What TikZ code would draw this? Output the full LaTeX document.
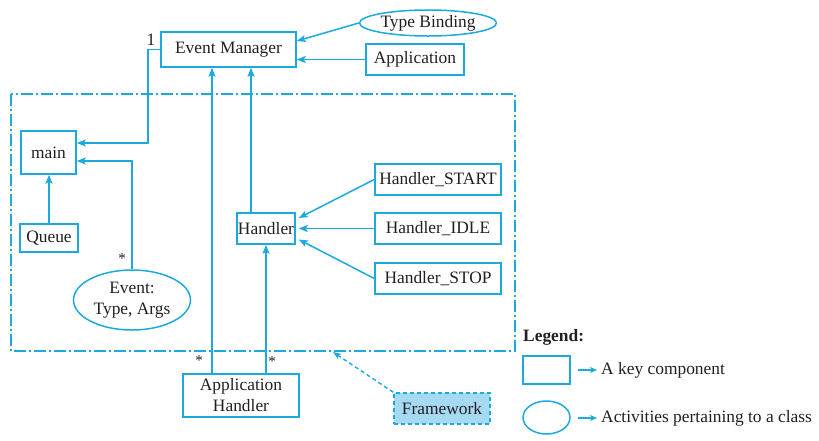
\documentclass[tikz,border=0pt]{standalone}
\usepackage{fontspec}
\setmainfont{Liberation Serif}
\usetikzlibrary{shapes.geometric,arrows.meta,calc}
\definecolor{cy}{RGB}{28,170,222}
\definecolor{fwfill}{RGB}{165,218,242}
\definecolor{txt}{RGB}{35,31,32}
\begin{document}
\begin{tikzpicture}[x=1pt,y=-1pt,
  every node/.style={text=txt,font=\fontsize{17.4}{21}\selectfont},
  box/.style={draw=cy,line width=1.5pt,rectangle,inner sep=0pt,align=center},
  oval/.style={draw=cy,line width=1.5pt,ellipse,inner sep=0pt,align=center},
  arr/.style={draw=cy,line width=1.5pt,-{Stealth[length=9pt,width=7pt,inset=2pt]}},
  star/.style={font=\fontsize{15}{15}\selectfont,inner sep=0pt}]
\useasboundingbox (0,0) rectangle (819,440);
% frame
\draw[cy,line width=1.4pt,dash pattern=on 12pt off 3pt on 2pt off 3pt] (11,94) rectangle (515,351);
% nodes
\node[box,minimum width=135pt,minimum height=35pt] (em) at (228.5,49.5) {Event Manager};
\node[oval,minimum width=137pt,minimum height=26pt] (tb) at (428,23) {Type Binding};
\node[box,minimum width=98pt,minimum height=31pt] (app) at (415,59.5) {Application};
\node[box,minimum width=55pt,minimum height=43pt] (main) at (48.5,152.5) {main};
\node[box,minimum width=58pt,minimum height=28pt] (queue) at (49,238) {Queue};
\node[oval,minimum width=117pt,minimum height=60pt] (ev) at (132,300) {Event:\\Type, Args};
\node[box,minimum width=58pt,minimum height=31pt] (hd) at (266,228.5) {Handler};
\node[box,minimum width=126pt,minimum height=31pt] (hs) at (438,179.5) {Handler\_START};
\node[box,minimum width=126pt,minimum height=31pt] (hi) at (438,228.5) {Handler\_IDLE};
\node[box,minimum width=126pt,minimum height=31pt] (hp) at (438,278.5) {Handler\_STOP};
\node[box,minimum width=116pt,minimum height=43pt] (ah) at (241,395.5) {Application\\Handler};
\node[box,draw=cy,fill=fwfill,dash pattern=on 4pt off 3pt,minimum width=96pt,minimum height=31pt] (fw) at (442,408.5) {Framework};
% connectors
\draw[arr] (tb.west) -- ([yshift=8.5pt]em.east);
\draw[arr] (app.west) -- (app.west -| em.east);
\coordinate (c1) at (148,143);
\draw[arr] (em.west) -| (c1) -- (c1 -| main.east);
\draw[arr] (ev.north) |- ([yshift=-8.5pt]main.east);
\draw[arr] (queue.north) -- (queue.north |- main.south);
\draw[arr] ([xshift=-15pt]hd.north) -- ([xshift=-15pt]hd.north |- em.south);
\draw[arr] ([xshift=-29pt]ah.north) -- ([xshift=-29pt]ah.north |- em.south);
\draw[arr] ([xshift=25pt]ah.north) -- (hd.south);
\draw[arr] (hs.west) -- ([xshift=3pt,yshift=10.5pt]hd.east);
\draw[arr] (hi.west) -- ([xshift=3pt]hd.east);
\draw[arr] (hp.west) -- ([xshift=3pt,yshift=-11pt]hd.east);
\coordinate (fwtip) at (333,352);
\draw[cy,line width=1.4pt,dash pattern=on 4pt off 3pt,-{Stealth[length=8pt,width=6pt,inset=2pt]}] (fw.north west) -- (fwtip);
% labels
\node[inner sep=0pt] (one) at (151,40) {1};
\node[star] (s1) at (122,259) {*};
\node[star] (s2) at (199,361) {*};
\node[star] (s3) at (272,362) {*};
% legend
\node[anchor=west,inner sep=0pt,font=\bfseries\fontsize{17.4}{21}\selectfont] (lg) at (523,337) {Legend:};
\node[box,minimum width=47pt,minimum height=28pt] (lb) at (546.5,370) {};
\node[oval,minimum width=47pt,minimum height=33pt] (le) at (546.5,417.5) {};
\node[anchor=west,inner sep=0pt] (t1) at (601,370) {A key component};
\node[anchor=west,inner sep=0pt] (t2) at (601,418) {Activities pertaining to a class};
\draw[cy,line width=1.5pt,-{Stealth[length=7pt,width=6pt,inset=2pt]}] ([xshift=7pt]lb.east) -- ([xshift=-4pt]t1.west);
\draw[cy,line width=1.5pt,-{Stealth[length=7pt,width=6pt,inset=2pt]}] ([xshift=7pt,yshift=-0.5pt]le.east) -- ([xshift=-4pt]t2.west);
\end{tikzpicture}
\end{document}
